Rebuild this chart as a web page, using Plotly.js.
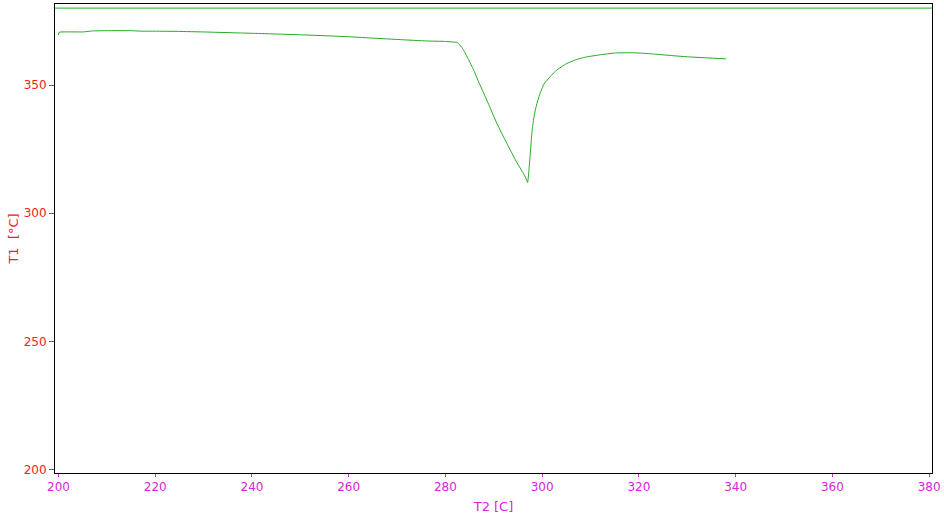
<!DOCTYPE html>
<html>
<head>
<meta charset="utf-8">
<script src="https://cdn.plot.ly/plotly-3.0.1.min.js"></script>
<style>html,body{margin:0;padding:0;background:#fff;}#chart{width:944px;height:518px;}</style>
</head>
<body>
<div id="chart"></div>
<script>
// T2 [C] values
const t2 = [200.0, 200.15, 205, 207.2, 210, 215, 217, 220, 225, 230, 237.6, 245, 250, 260.3, 265, 270.7, 276, 280, 281.5, 282.4,
  283.0, 283.7, 284.7, 285.8, 286.8, 287.9, 289.2, 290.6, 292.0, 293.4, 294.7, 296.1, 296.6, 297.0,
  297.25, 297.5, 297.75, 298.0, 298.3, 298.6, 299.1, 299.6, 300.3, 301.7, 303, 305, 307, 309, 312, 315, 318, 320, 323, 326, 330, 334, 338];
// T1 [°C] values
const t1 = [369.5, 370.6, 370.7, 371.1, 371.2, 371.2, 371.0, 371.0, 370.9, 370.7, 370.3, 369.9, 369.6, 368.8, 368.3, 367.7, 367.2, 367.0, 366.8, 366.6,
  365.6, 363.8, 360.2, 356.0, 351.5, 346.9, 341.3, 335.2, 329.8, 324.7, 320.0, 315.6, 313.8, 312.0,
  316.5, 322.1, 328.5, 333.5, 337.5, 340.4, 344.0, 346.9, 350.2, 353.4, 355.8, 358.3, 359.9, 360.9, 361.8, 362.5, 362.6, 362.5, 362.1, 361.6, 361.0, 360.6, 360.2];
// reference level line
const refLevel = [380];

const green = '#22aa22';
const data = [{
  x: t2, y: t1, type: 'scatter', mode: 'lines',
  line: {color: green, width: 1, shape: 'spline', smoothing: 0.3}, hoverinfo: 'x+y'
}];

const layout = {
  width: 944, height: 518,
  margin: {l: 54.5, r: 12, t: 4.3, b: 45.3},
  paper_bgcolor: '#ffffff', plot_bgcolor: '#ffffff',
  showlegend: false,
  font: {family: 'DejaVu Sans, sans-serif', size: 12},
  xaxis: {
    range: [199.28, 380.6], tickvals: [200,220,240,260,280,300,320,340,360,380],
    showgrid: false, zeroline: false,
    showline: true, linecolor: '#000', linewidth: 1, mirror: true,
    ticks: 'outside', ticklen: 3, tickcolor: '#dd22dd', tickwidth: 1,
    tickfont: {color: '#dd22dd', size: 12, family: 'DejaVu Sans, sans-serif'},
    title: {text: 'T2 [C]', font: {color: '#dd22dd', size: 13, family: 'DejaVu Sans, sans-serif'}, standoff: 8}
  },
  yaxis: {
    range: [198.7, 381.6], tickvals: [200,250,300,350],
    showgrid: false, zeroline: false,
    showline: true, linecolor: '#000', linewidth: 1, mirror: true,
    ticks: 'outside', ticklen: 5, tickcolor: '#ee2222', tickwidth: 1,
    tickfont: {color: '#ee2222', size: 12, family: 'DejaVu Sans, sans-serif'},
    title: {text: 'T1  [°C]', font: {color: '#ee2222', size: 13, family: 'DejaVu Sans, sans-serif'}, standoff: 2}
  },
  shapes: refLevel.map(v => ({
    type: 'line', xref: 'paper', x0: 0, x1: 1, yref: 'y', y0: v, y1: v,
    line: {color: green, width: 1}
  }))
};

Plotly.newPlot('chart', data, layout, {displayModeBar: false, staticPlot: true});
</script>
</body>
</html>
